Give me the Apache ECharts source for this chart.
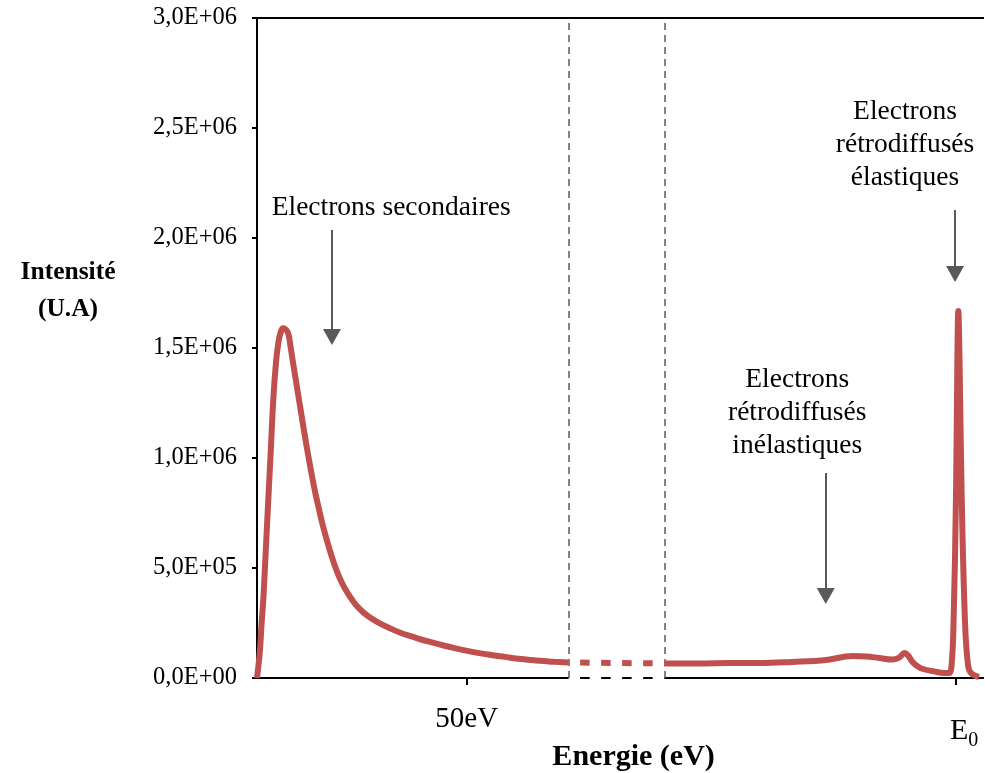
<!DOCTYPE html>
<html>
<head>
<meta charset="utf-8">
<script src="https://cdn.jsdelivr.net/npm/echarts@6/dist/echarts.min.js"></script>
<style>
html,body{margin:0;padding:0;background:#fff;}
#chart{width:985px;height:773px;}
</style>
</head>
<body>
<div id="chart"></div>
<script>
// ---- axis layout values (display units: left segment in eV) ----
const X_MAX = 173.33;
const BREAK_START = 74.3;
const BREAK_END = 97.14;
const E0_POS = 166.67;
const yTicks = [0, 500000, 1000000, 1500000, 2000000, 2500000, 3000000];
const xTickValues = [50, E0_POS];

// ---- secondary electrons segment ----
const leftEnergy = [0, 0.31, 0.71, 1.07, 1.5, 2.1, 2.69, 3.29, 3.88, 4.48, 5.07, 5.67, 6.26, 6.86, 7.45, 8.05, 8.64, 9.64, 10.64, 11.62, 12.62, 13.62, 14.6, 15.79, 16.98, 18.33, 19.76, 21.19, 22.55, 23.81, 25.48, 27.31, 29.29, 31.26, 34.05, 36.9, 40.79, 46.43, 50.71, 55.07, 59.05, 63.02, 67.38, 70.95, 74.3];
const leftIntensity = [0, 51400, 127000, 241000, 355000, 582000, 809000, 1036000, 1264000, 1423000, 1521000, 1573000, 1590000, 1584000, 1566000, 1500000, 1427000, 1309000, 1191000, 1077000, 968000, 868000, 782000, 686000, 605000, 523000, 452000, 400000, 359000, 327000, 296000, 271000, 248000, 230000, 207000, 189000, 166000, 139000, 121000, 107000, 96000, 86000, 78000, 74000, 70500];

// ---- backscattered segment (positions in display units, E0 at E0_POS) ----
const rightPos = [97.14, 105.48, 112.62, 119.76, 127.62, 135.71, 141.90, 145.24, 148.33, 151.43, 153.10, 154.40, 155.24, 156.19, 157.38, 158.81, 161.43, 163.81, 165.0, 165.6, 166.07, 166.67, 166.98, 167.21, 167.5, 167.98, 168.81, 169.52, 170.24, 172.14];
const rightIntensity = [66000, 66000, 68000, 68000, 73000, 82000, 100000, 98000, 91000, 84000, 93000, 114000, 102000, 75000, 55000, 41000, 30000, 23000, 22700, 59000, 250000, 855000, 1445000, 1668000, 1445000, 855000, 250000, 59000, 22700, 4500];

// ---- break (dotted link) ----
const breakPos = [BREAK_START, BREAK_END];
const breakIntensity = [70500, 66000];

// ---- annotations ----
const annotTexts = ['Electrons secondaires', 'Electrons\nrétrodiffusés\ninélastiques', 'Electrons\nrétrodiffusés\nélastiques'];
const annotPos = [[32.0, 2136000], [128.8, 1204500], [154.5, 2422700]];
const arrows = [[[17.86, 2036000], [17.86, 1550000]], [[135.6, 932000], [135.6, 373000]], [[166.43, 2127000], [166.43, 1836000]]];

const RED = '#C0504D';
const SERIF = '"Liberation Serif","Times New Roman",serif';

function fmtY(v) {
  if (v === 0) return '0,0E+00';
  const e = Math.floor(Math.log10(v) + 1e-9);
  const m = v / Math.pow(10, e);
  return m.toFixed(1).replace('.', ',') + 'E+' + (e < 10 ? '0' + e : e);
}
function zip(a, b) { return a.map((v, i) => [v, b[i]]); }

const chart = echarts.init(document.getElementById('chart'), null, {renderer: 'canvas'});
const option = {
  animation: false,
  backgroundColor: '#fff',
  grid: {left: 257, right: 1, top: 18, bottom: 95},
  xAxis: {
    type: 'value', min: 0, max: X_MAX,
    axisLine: {show: false},
    splitLine: {show: false},
    axisTick: {show: true, customValues: xTickValues, length: 7, lineStyle: {color: '#000', width: 2}},
    axisLabel: {
      show: true, customValues: xTickValues, margin: 27,
      fontFamily: SERIF, fontSize: 29, color: '#000',
      formatter: v => (Math.abs(v - E0_POS) < 0.01 ? '{e|E}{s|0}' : v + 'eV'),
      rich: {
        e: {fontFamily: SERIF, fontSize: 30, color: '#000', padding: [7, 0, 0, 16]},
        s: {fontFamily: SERIF, fontSize: 20, color: '#000', padding: [26, 0, 0, 0]}
      }
    }
  },
  yAxis: {
    type: 'value', min: 0, max: 3000000, interval: 500000,
    axisLine: {show: true, lineStyle: {color: '#000', width: 2}},
    axisTick: {show: true, length: 5, lineStyle: {color: '#000', width: 2}},
    splitLine: {show: false},
    axisLabel: {margin: 20, fontFamily: SERIF, fontSize: 24.5, color: '#000', formatter: fmtY}
  },
  series: [
    {
      type: 'line', data: zip(leftEnergy, leftIntensity), smooth: 0.5,
      showSymbol: false, lineStyle: {color: RED, width: 6}, z: 5
    },
    {
      type: 'line', data: zip(rightPos, rightIntensity), smooth: 0.4,
      showSymbol: false, lineStyle: {color: RED, width: 6}, z: 5
    },
    {
      type: 'line', data: zip(breakPos, breakIntensity), showSymbol: false,
      lineStyle: {color: RED, width: 6, type: [9.5, 11.5], dashOffset: 9.5, cap: 'butt'}, z: 5
    },
    {
      type: 'line', data: [], clip: false, silent: true,
      markLine: {
        silent: true, symbol: ['none', 'none'], label: {show: false}, animation: false,
        data: [
          [{coord: [0, 0], lineStyle: {color: '#000', width: 2, type: 'solid'}}, {coord: [BREAK_START, 0]}],
          [{coord: [BREAK_START, 0], lineStyle: {color: '#000', width: 2, type: [9.5, 11.5], dashOffset: 9.5}}, {coord: [BREAK_END, 0]}],
          [{coord: [BREAK_END, 0], lineStyle: {color: '#000', width: 2, type: 'solid'}}, {coord: [X_MAX, 0]}],
          [{coord: [0, 3000000], lineStyle: {color: '#000', width: 2, type: 'solid'}}, {coord: [X_MAX, 3000000]}],
          [{coord: [BREAK_START, 0], lineStyle: {color: '#5a5a5a', width: 1.5, type: [7, 5]}}, {coord: [BREAK_START, 2980000]}],
          [{coord: [BREAK_END, 0], lineStyle: {color: '#5a5a5a', width: 1.5, type: [7, 5]}}, {coord: [BREAK_END, 2980000]}]
        ]
      }
    },
    {
      type: 'line', data: [], clip: false, silent: true,
      markLine: {
        silent: true, symbol: ['none', 'triangle'], symbolSize: [18, 16], label: {show: false}, animation: false,
        lineStyle: {color: '#595959', width: 2, type: 'solid'},
        itemStyle: {color: '#595959'},
        data: arrows.map(a => [{coord: a[0]}, {coord: a[1]}])
      },
      markPoint: {
        silent: true, symbol: 'circle', symbolSize: 0, animation: false,
        label: {show: true, position: 'inside', fontFamily: SERIF, fontSize: 27.5, lineHeight: 33, color: '#000', align: 'center', verticalAlign: 'middle'},
        data: annotTexts.map((t, i) => ({coord: annotPos[i], value: t, label: {formatter: t}}))
      }
    }
  ]
};
chart.setOption(option);

// axis titles, positioned relative to the grid
const gridRect = chart.getModel().getComponent('grid').coordinateSystem.getRect();
chart.setOption({
  graphic: [
    {type: 'text', x: 68, y: gridRect.y + 273, style: {text: 'Intensité\n(U.A)', fontFamily: SERIF, fontSize: 25.5, fontWeight: 'bold', lineHeight: 37, fill: '#000', align: 'center', verticalAlign: 'middle'}},
    {type: 'text', x: gridRect.x + gridRect.width * 0.518, y: gridRect.y + gridRect.height + 79, style: {text: 'Energie (eV)', fontFamily: SERIF, fontSize: 30, fontWeight: 'bold', fill: '#000', align: 'center', verticalAlign: 'middle'}}
  ]
});
</script>
</body>
</html>
